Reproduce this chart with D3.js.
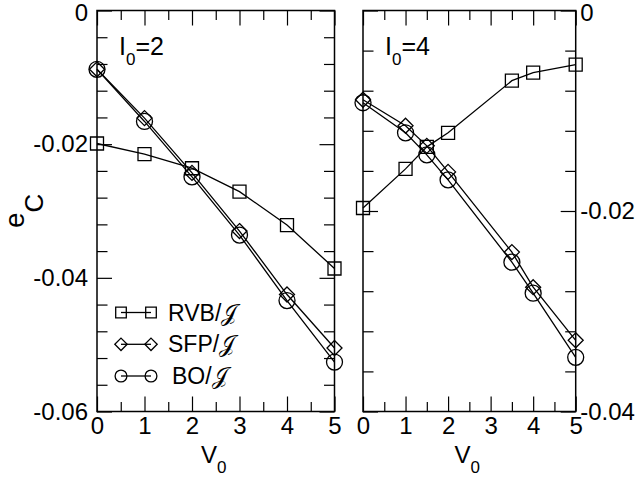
<!DOCTYPE html>
<html><head><meta charset="utf-8">
<script src="https://cdn.jsdelivr.net/npm/d3@7"></script>
<style>
body{margin:0;background:#fff;}
text{font-family:"Liberation Sans",Arial,sans-serif;fill:#000;}
</style></head><body>
<svg id="chart" width="639" height="485"></svg>
<script>
// ---- data ----
const leftX = [0, 1, 2, 3, 4, 5];
const leftRVB = [-0.0199, -0.0215, -0.0236, -0.0271, -0.0321, -0.0386];
const leftSFP = [-0.0088, -0.0161, -0.0243, -0.0330, -0.0425, -0.0505];
const leftBO  = [-0.0088, -0.0166, -0.0249, -0.0336, -0.0434, -0.0526];

const rightX = [0, 1, 1.5, 2, 3.5, 4, 5];
const rightRVB = [-0.0197, -0.0158, -0.0136, -0.0122, -0.0070, -0.0062, -0.0054];
const rightSFP = [-0.0089, -0.0115, -0.0135, -0.0161, -0.0241, -0.0276, -0.0329];
const rightBO  = [-0.0092, -0.0122, -0.0144, -0.0169, -0.0251, -0.0282, -0.0346];

const xMajor = [0, 1, 2, 3, 4, 5];
const xMinor = [0.5, 1.5, 2.5, 3.5, 4.5];
const leftYMajor = [0, -0.02, -0.04, -0.06];
const rightYMajor = [0, -0.02, -0.04];
const seriesNames = ["RVB", "SFP", "BO"];
const panelLabels = ["2", "4"];

// ---- drawing ----
const svg = d3.select("#chart");
const J = "\u{1D4A5}";

function minorTicks(lo, hi, step, majors) {
  const out = [];
  const n = Math.round((hi - lo) / step);
  for (let i = 0; i <= n; i++) {
    const v = +(lo + i * step).toFixed(4);
    if (!majors.some(m => Math.abs(m - v) < 1e-9)) out.push(v);
  }
  return out;
}

function markerPath(type, s) {
  if (type === "RVB") return `M${-s},${-s}H${s}V${s}H${-s}Z`;
  if (type === "SFP") return `M0,${-s}L${s},0L0,${s}L${-s},0Z`;
  return `M${-s},0A${s},${s} 0 1,0 ${s},0A${s},${s} 0 1,0 ${-s},0Z`;
}
const markerSize = {RVB: 6.5, SFP: 7.5, BO: 8};
const legendSize = {RVB: 5.3, SFP: 6.2, BO: 5.9};

function drawPanel(cfg) {
  const x = d3.scaleLinear().domain([0, 5]).range([cfg.x0, cfg.x1]);
  const y = d3.scaleLinear().domain([cfg.yMin, 0]).range([cfg.y1, cfg.y0]);
  const g = svg.append("g");
  const yMinor = minorTicks(cfg.yMin, 0, 0.004, cfg.yMajor);

  function tickAxis(axis, values, size, transform) {
    const a = g.append("g").attr("transform", transform)
      .call(axis.tickValues(values).tickSize(size).tickFormat(""));
    a.select(".domain").remove();
    a.selectAll("line").attr("stroke", "#000").attr("stroke-width", 1.2);
  }
  tickAxis(d3.axisBottom(x), xMajor, -15, `translate(0,${cfg.y1})`);
  tickAxis(d3.axisBottom(x), xMinor, -9.5, `translate(0,${cfg.y1})`);
  tickAxis(d3.axisTop(x), xMajor, -15, `translate(0,${cfg.y0})`);
  tickAxis(d3.axisTop(x), xMinor, -9.5, `translate(0,${cfg.y0})`);
  tickAxis(d3.axisLeft(y), cfg.yMajor, -15, `translate(${cfg.x0},0)`);
  tickAxis(d3.axisLeft(y), yMinor, -10.5, `translate(${cfg.x0},0)`);
  tickAxis(d3.axisRight(y), cfg.yMajor, -15, `translate(${cfg.x1},0)`);
  tickAxis(d3.axisRight(y), yMinor, -10.5, `translate(${cfg.x1},0)`);

  g.append("rect").attr("x", cfg.x0).attr("y", cfg.y0)
    .attr("width", cfg.x1 - cfg.x0).attr("height", cfg.y1 - cfg.y0)
    .attr("fill", "none").attr("stroke", "#000").attr("stroke-width", 1.5);

  // x labels
  const xl = g.append("g").attr("transform", `translate(0,${cfg.y1})`)
    .call(d3.axisBottom(x).tickValues(xMajor).tickSize(0).tickPadding(5).tickFormat(d3.format("d")));
  xl.select(".domain").remove();
  xl.selectAll("text").attr("font-size", 24).attr("font-family", "Liberation Sans, Arial, sans-serif").attr("fill", "#000");

  // y labels
  const fmt = d => d === 0 ? "0" : d.toFixed(2);
  const yAxisFn = cfg.side === "left" ? d3.axisLeft(y).tickPadding(9) : d3.axisRight(y).tickPadding(4.5);
  const ylab = g.append("g").attr("transform", `translate(${cfg.side === "left" ? cfg.x0 : cfg.x1},0)`)
    .call(yAxisFn.tickValues(cfg.yMajor).tickSize(0).tickFormat(fmt));
  ylab.select(".domain").remove();
  ylab.selectAll("text").attr("font-size", 24).attr("font-family", "Liberation Sans, Arial, sans-serif").attr("fill", "#000");
  ylab.selectAll("text").filter(d => d === 0).attr("dy", "0.42em");

  // x title
  const xt = g.append("text").attr("x", (cfg.x0 + cfg.x1) / 2 - 2).attr("y", 463)
    .attr("text-anchor", "middle").attr("font-size", 24);
  xt.append("tspan").text("V");
  xt.append("tspan").attr("dy", 10).attr("font-size", 17).text("0");

  // panel label
  const pl = g.append("text").attr("x", cfg.x0 + 22).attr("y", 55).attr("font-size", 25);
  pl.append("tspan").text("I");
  pl.append("tspan").attr("dy", 10).attr("font-size", 17).text("0");
  pl.append("tspan").attr("dy", -10).text("=" + cfg.label);

  // series
  const line = d3.line().x(d => x(d[0])).y(d => y(d[1]));
  cfg.series.forEach((vals, i) => {
    const name = seriesNames[i];
    const pts = cfg.xs.map((xv, j) => [xv, vals[j]]);
    g.append("path").attr("d", line(pts)).attr("fill", "none")
      .attr("stroke", "#000").attr("stroke-width", 1.3);
    g.selectAll(null).data(pts).enter().append("path")
      .attr("transform", d => `translate(${x(d[0])},${y(d[1])})`)
      .attr("d", markerPath(name, markerSize[name]))
      .attr("fill", "none").attr("stroke", "#000").attr("stroke-width", 1.3);
  });
  return g;
}

drawPanel({x0: 97, x1: 334.5, y0: 10.5, y1: 411.5, yMin: -0.06, yMajor: leftYMajor,
  side: "left", label: panelLabels[0], xs: leftX, series: [leftRVB, leftSFP, leftBO]});
drawPanel({x0: 363, x1: 575.7, y0: 10.5, y1: 411.5, yMin: -0.04, yMajor: rightYMajor,
  side: "right", label: panelLabels[1], xs: rightX, series: [rightRVB, rightSFP, rightBO]});

// y title e_C
const yt = svg.append("text").attr("transform", "translate(24,228) rotate(-90)")
  .attr("font-size", 28);
yt.append("tspan").text("e");
yt.append("tspan").attr("dy", 19).attr("font-size", 26).text("C");

// legend
const legY = [312.5, 344.3, 376];
const legTextX = [168, 168, 172];
seriesNames.forEach((name, i) => {
  const lg = svg.append("g");
  lg.append("line").attr("x1", 121).attr("x2", 151).attr("y1", legY[i]).attr("y2", legY[i])
    .attr("stroke", "#000").attr("stroke-width", 1.3);
  [121, 151].forEach(cx => {
    lg.append("path").attr("transform", `translate(${cx},${legY[i]})`)
      .attr("d", markerPath(name, legendSize[name]))
      .attr("fill", "none").attr("stroke", "#000").attr("stroke-width", 1.3);
  });
  const t = lg.append("text").attr("x", legTextX[i]).attr("y", legY[i] + 8).attr("font-size", 23);
  t.append("tspan").text(name + "/");
  t.append("tspan").attr("font-family", "DejaVu Sans, serif").text(J);
});
</script></body></html>
